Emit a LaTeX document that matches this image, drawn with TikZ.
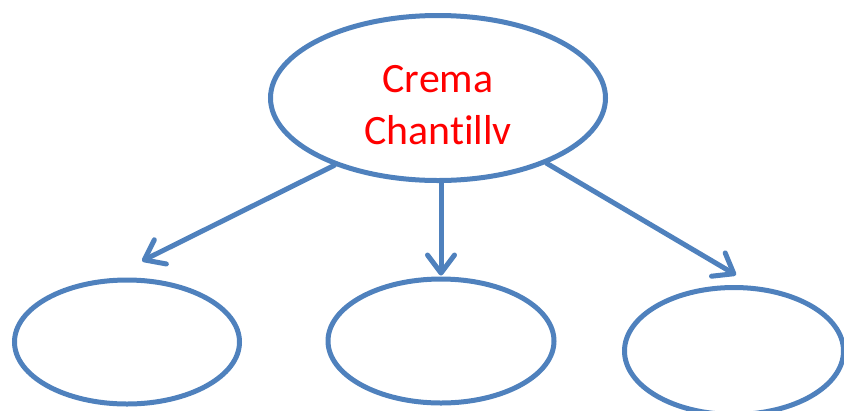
\documentclass[tikz,border=0pt]{standalone}
\usepackage{fontspec}
\setmainfont{Carlito}[Ligatures=NoCommon]
\usetikzlibrary{arrows.meta,shapes.geometric,calc}
\definecolor{officeblue}{HTML}{4F81BD}

\begin{document}
\begin{tikzpicture}[x=1bp, y=-1bp, >={Straight Barb[length=18bp,width=27bp,round]}]
\tikzstyle{every node}=[draw=officeblue, line width=5bp, shape=ellipse, inner sep=0pt];
\tikzstyle{conn}=[draw=officeblue, line width=5bp, line cap=round, ->];
\useasboundingbox (0,0) rectangle (844,410);
\path (438,98) node[minimum width=335bp, minimum height=165bp] (crema) {};
\path (127,342) node[minimum width=225bp, minimum height=124bp] (left) {};
\path (441,341) node[minimum width=226bp, minimum height=124bp] (mid) {};
\path (734,351) node[minimum width=219bp, minimum height=127bp] (right) {};
\path ([yshift=-7bp]crema.center) node[draw=none, text=red, align=center,
  font=\fontsize{42}{52}\selectfont] (cremalabel) {Crema\\Chantillv};
\path[conn] (crema.213.6) -- ($(left.north)+(15,-16.5)$);
\path[conn] (crema.south -| mid.north) -- ($(mid.north)+(0,-1)$);
\path[conn] (crema.329.2) -- ($(right.north)+(2,-10)$);
\end{tikzpicture}
\end{document}
